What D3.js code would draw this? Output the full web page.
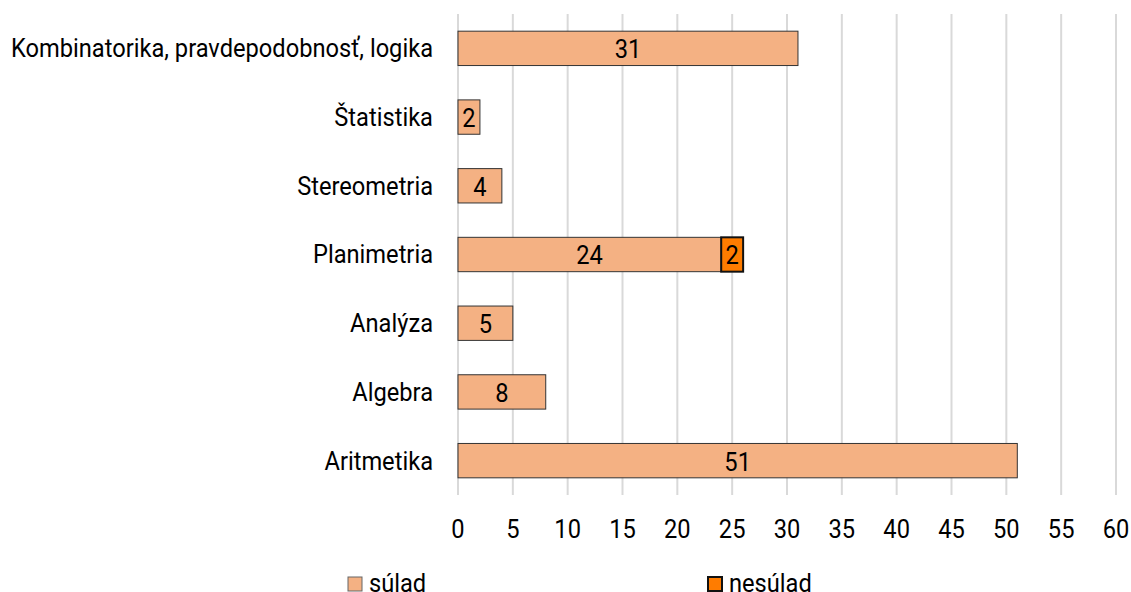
<!DOCTYPE html>
<html><head><meta charset="utf-8">
<script src="https://cdn.jsdelivr.net/npm/d3@7"></script>
<style>body{margin:0;background:#fff}text{font-family:Roboto,"Liberation Sans",sans-serif;fill:#000}</style>
</head><body><svg id="c" width="1131" height="592"></svg>
<script>
const categories = ["Kombinatorika, pravdepodobnosť, logika","Štatistika","Stereometria","Planimetria","Analýza","Algebra","Aritmetika"];
const sulad = [31,2,4,24,5,8,51];
const nesulad = [0,0,0,2,0,0,0];
const seriesNames = ["súlad","nesúlad"];
const xTicks = [0,5,10,15,20,25,30,35,40,45,50,55,60];

const SX = 0.91, FS = 26;
const svg = d3.select("#c");
const x = d3.scaleLinear().domain([0,60]).range([458,1116]);
const y = d3.scaleBand().domain(categories).range([14,495]).padding(0.5).paddingOuter(0.25);

function txt(g, xp, yp, s, anchor){
  return g.append("text").attr("transform",`translate(${xp},${yp}) scale(${SX},1)`)
    .attr("text-anchor",anchor).attr("dominant-baseline","central").attr("font-size",FS).text(s);
}

// gridlines
svg.append("g").selectAll("line").data(xTicks).join("line")
  .attr("x1",d=>x(d)).attr("x2",d=>x(d)).attr("y1",14).attr("y2",495)
  .attr("stroke","#d9d9d9").attr("stroke-width",2);

// tick labels
xTicks.forEach(t=>txt(svg, x(t), 529, t, "middle"));

// category labels
categories.forEach(c=>txt(svg, 433, y(c)+y.bandwidth()/2, c, "end"));

// bars
const colors = ["#F4B183","#FF7C00"];
const strokes = [{c:"#333",w:1},{c:"#111",w:2}];
categories.forEach((c,i)=>{
  const vals=[sulad[i],nesulad[i]];
  let start=0;
  vals.forEach((v,k)=>{
    if(v<=0) return;
    svg.append("rect").attr("x",x(start)).attr("y",y(c)).attr("width",x(start+v)-x(start))
      .attr("height",y.bandwidth()).attr("fill",colors[k]).attr("stroke",strokes[k].c).attr("stroke-width",strokes[k].w);
    txt(svg, (x(start)+x(start+v))/2, y(c)+y.bandwidth()/2+1, v, "middle");
    start+=v;
  });
});

// legend
const legX=[348,708];
seriesNames.forEach((s,k)=>{
  svg.append("rect").attr("x",legX[k]).attr("y",577).attr("width",14).attr("height",14)
    .attr("fill",colors[k]).attr("stroke",k?"#111":"#666").attr("stroke-width",k?2:1);
  txt(svg, legX[k]+21, 583, s, "start");
});
</script></body></html>
